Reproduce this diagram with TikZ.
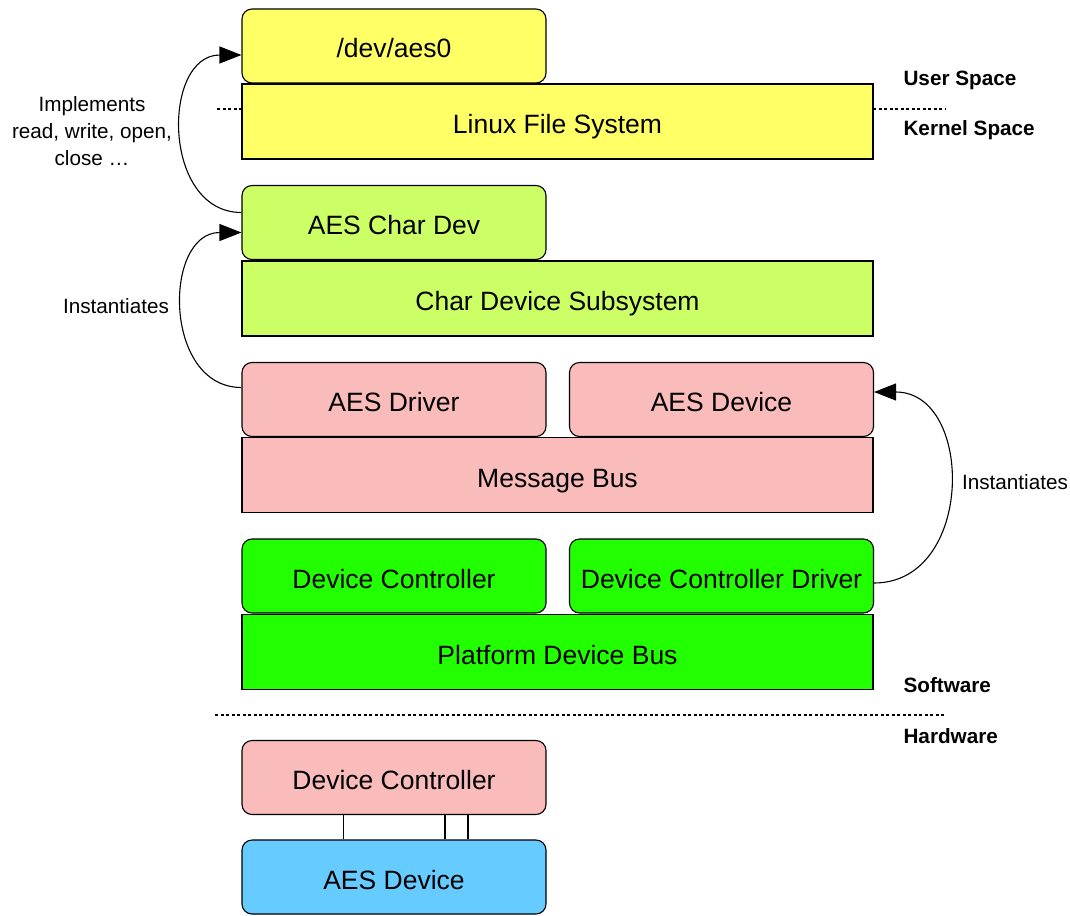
\documentclass[tikz,border=0pt]{standalone}
\usepackage{fontspec}
\setmainfont{Liberation Sans}
\usetikzlibrary{arrows.meta}
\definecolor{userylw}{HTML}{FFFF66}
\definecolor{charlime}{HTML}{CCFF66}
\definecolor{buspink}{HTML}{FABBBB}
\definecolor{pfgreen}{HTML}{22FF00}
\definecolor{hwblue}{HTML}{66CCFF}
\begin{document}
\begin{tikzpicture}[x=1pt, y=-1pt,
    blk/.style={draw, line width=1.1pt, inner sep=0pt, minimum height=75pt, text height=24pt, text depth=0pt, font=\fontsize{26.5}{30}\selectfont},
    part/.style={blk, rounded corners=10pt, minimum width=304pt, minimum height=74pt},
    layer/.style={blk, minimum width=631pt},
    lbl/.style={font=\fontsize{20.7}{27}\selectfont, align=center},
    side/.style={font=\fontsize{20.7}{27}\selectfont\bfseries, anchor=west},
    sep/.style={line width=1.1pt, dash pattern=on 3pt off 2.5pt},
    arr/.style={line width=1.1pt, -{Triangle[length=22pt, width=17pt]}}]
            \useasboundingbox (0,0) rectangle (1070,915);
            % user space / kernel
            \node[layer, fill=userylw] (fs) at (557.5,121.5) {Linux File System};
            \node[part, fill=userylw] (dev) at (394,46) {/dev/aes0};
            % char device layer
            \node[layer, fill=charlime] (chrsub) at (557.5,298.5) {Char Device Subsystem};
            \node[part, fill=charlime] (chardev) at (394,222.5) {AES Char Dev};
            % message bus layer
            \node[layer, fill=buspink] (msgbus) at (557.5,475) {Message Bus};
            \node[part, fill=buspink] (drv) at (394,399.5) {AES Driver};
            \node[part, fill=buspink] (aesdev) at (721.5,399.5) {AES Device};
            % platform bus layer
            \node[layer, fill=pfgreen] (pfbus) at (557.5,652) {Platform Device Bus};
            \node[part, fill=pfgreen] (devctl) at (394,576) {Device Controller};
            \node[part, fill=pfgreen] (ctldrv) at (721.5,576) {Device Controller Driver};
            % hardware
            \node[part, fill=buspink] (hwctl) at (394,777.5) {Device Controller};
            \node[part, fill=hwblue] (hwaes) at (394,877) {AES Device};
            \draw[line width=0.8pt] ([xshift=-51pt]hwctl.south) -- ([xshift=-51pt]hwaes.north);
            \draw[line width=2.4pt] ([xshift=51pt]hwctl.south) -- ([xshift=51pt]hwaes.north);
            \draw[line width=2.4pt] ([xshift=74pt]hwctl.south) -- ([xshift=74pt]hwaes.north);
            % separators
            \draw[sep] (217,109) -- (242,109);
            \draw[sep] (873,109) -- (946,109);
            \draw[sep] (215,715) -- (946,715);
            \node[side] (usr) at (900,80) {User Space};
            \node[side] (krn) at (900,130) {Kernel Space};
            \node[side] (sw) at (900,685) {Software};
            \node[side] (hw) at (900,736) {Hardware};
            % relations
            \node[lbl] (impl) at (92,131) {Implements\\read, write, open,\\close …};
            \node[lbl] (inst1) at (116,306) {Instantiates};
            \node[lbl] (inst2) at (1015,482) {Instantiates};
            \draw[arr] ([yshift=10pt]chardev.west) to[out=180, in=180, looseness=1.3] ([yshift=-9pt]dev.west);
            \draw[arr] ([yshift=12pt]drv.west) to[out=180, in=180, looseness=1.3] ([yshift=-10pt]chardev.west);
            \draw[arr] ([yshift=-7pt]ctldrv.east) to[out=0, in=0, looseness=1.35] ([yshift=7.5pt]aesdev.east);
        \end{tikzpicture}
\end{document}
